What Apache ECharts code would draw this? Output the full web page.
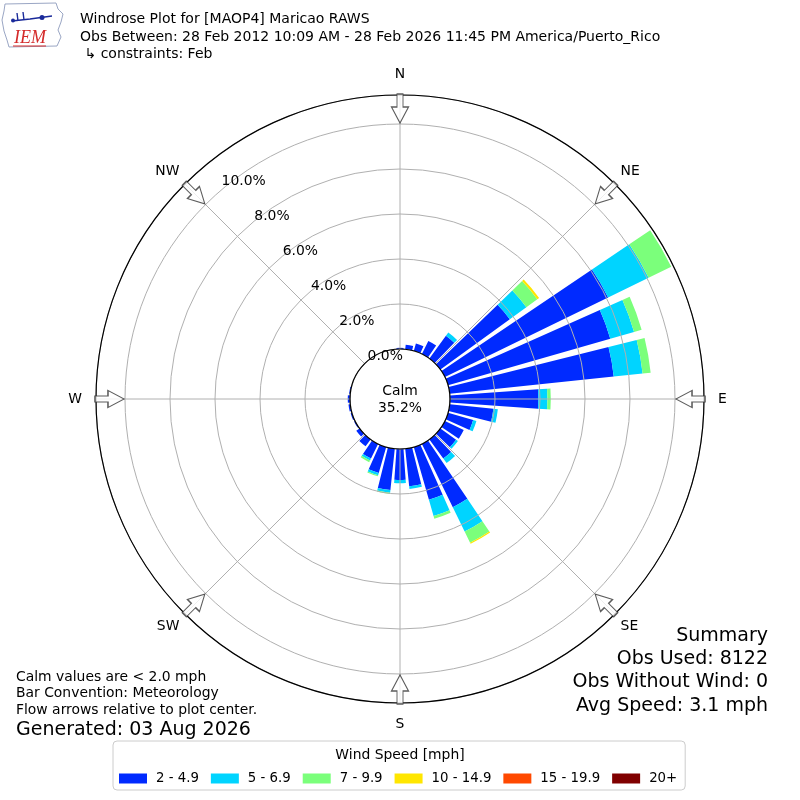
<!DOCTYPE html>
<html>
<head>
<meta charset="utf-8">
<script src="https://cdn.jsdelivr.net/npm/echarts@6/dist/echarts.min.js"></script>
<style>
html,body{margin:0;padding:0;background:#ffffff;}
#main{width:800px;height:800px;}
</style>
</head>
<body>
<div id="main"></div>
<script>
// ---------------- data ----------------
const directions = [0,10,20,30,40,50,60,70,80,90,100,110,120,130,140,150,160,170,
                    180,190,200,210,220,230,240,250,260,270,280,290,300,310,320,330,340,350];
const speedBins = ['2 - 4.9','5 - 6.9','7 - 9.9','10 - 14.9','15 - 19.9','20+'];
// percent of observations per direction (stacked)
const speed2to5 = [0.05,0.20,0.34,0.65,1.25,3.81,8.07,7.50,7.33,3.93,1.95,1.16,0.93,0.86,1.05,3.13,2.44,1.68,
                   1.38,1.85,1.20,0.72,0.38,0.18,0.05,0.06,0.08,0.10,0.05,0,0,0,0,0,0,0];
const speed5to7 = [0,0,0,0,0.18,0.91,2.00,1.10,1.29,0.40,0.20,0.15,0,0.10,0.25,1.20,0.75,0.12,
                   0.14,0.12,0.10,0.10,0,0,0,0,0,0,0,0,0,0,0,0,0,0];
const speed7to10 = [0,0,0,0,0,0.60,1.12,0.35,0.36,0.15,0,0,0,0,0,0.55,0.12,0,
                    0,0.05,0.05,0.08,0,0,0,0,0,0,0,0,0,0,0,0,0,0];
const speed10to15 = [0,0,0,0,0,0.10,0,0,0,0,0,0,0,0,0,0.06,0,0,
                     0,0,0,0,0,0,0,0,0,0,0,0,0,0,0,0,0,0];
const speed15to20 = [0,0,0,0,0,0,0,0,0,0,0,0,0,0,0,0,0,0,0,0,0,0,0,0,0,0,0,0,0,0,0,0,0,0,0,0];
const speed20plus = [0,0,0,0,0,0,0,0,0,0,0,0,0,0,0,0,0,0,0,0,0,0,0,0,0,0,0,0,0,0,0,0,0,0,0,0];
const compassLabels = ['N','NE','E','SE','S','SW','W','NW'];
const compassAngles = [0,45,90,135,180,225,270,315];
const radiusTickStep = 2;
const calmPercent = 35.2;
const calmLimit = 2.0;
const obsUsed = 8122;
const obsWithoutWind = 0;
const avgSpeed = 3.1;

// ---------------- style ----------------
const binValues = [speed2to5, speed5to7, speed7to10, speed10to15, speed15to20, speed20plus];
const binColors = ['#002aff','#00d4ff','#7bff7b','#ffe600','#ff4900','#800000'];
const FONT = 'DejaVu Sans';
const CENTER = [400, 399];
const RADII = [50, 304];
const R_MAX = 11.289;
const ARROW_R = 10.69;
const GRID = '#b0b0b0';
const arrowPath = 'path://M5.5,0 L11.5,0 L11.5,13 L17,13 L8.5,29 L0,13 L5.5,13 Z';
const compassRich = {N: 'n', E: 'e', S: 's', W: 'w'};

const chart = echarts.init(document.getElementById('main'), null, {renderer: 'canvas'});

const barSeries = speedBins.map((name, i) => ({
  type: 'bar', name: name, coordinateSystem: 'polar', polarIndex: 0,
  stack: 'wind', data: binValues[i], barCategoryGap: '20%', z: 2, silent: true,
  itemStyle: {color: binColors[i]}
}));

const option = {
  animation: false,
  backgroundColor: '#ffffff',
  textStyle: {fontFamily: FONT},
  title: [
    {
      left: 80, top: 11, padding: 0,
      text: 'Windrose Plot for [MAOP4] Maricao RAWS\nObs Between: 28 Feb 2012 10:09 AM - 28 Feb 2026 11:45 PM America/Puerto_Rico\n \u21b3 constraints: Feb',
      textStyle: {fontFamily: FONT, fontSize: 14, fontWeight: 'normal', color: '#000', lineHeight: 17.5}
    },
    {
      left: 'center', top: 748, padding: 0, z: 8,
      text: 'Wind Speed [mph]',
      textStyle: {fontFamily: FONT, fontSize: 13.9, fontWeight: 'normal', color: '#000'}
    }
  ],
  legend: {
    left: 113, top: 741, orient: 'horizontal',
    padding: [31, 8, 5, 6],
    itemWidth: 28, itemHeight: 10, itemGap: 12, icon: 'rect',
    borderColor: '#cccccc', borderWidth: 1, borderRadius: 4, backgroundColor: '#ffffff',
    selectedMode: false,
    textStyle: {fontFamily: FONT, fontSize: 13.3, color: '#000', padding: [0, 0, 0, 4]},
    data: speedBins
  },
  polar: [
    {center: CENTER, radius: RADII},
    {center: CENTER, radius: RADII},
    {center: CENTER, radius: RADII}
  ],
  angleAxis: [
    {polarIndex: 0, type: 'category', data: directions, startAngle: 95, clockwise: true, show: false},
    {
      polarIndex: 1, type: 'value', min: 0, max: 360, interval: 45, startAngle: 90, clockwise: true, z: 4,
      axisLine: {show: true, lineStyle: {color: '#000', width: 1.2}},
      axisTick: {show: false},
      splitLine: {show: true, lineStyle: {color: GRID, width: 1}},
      axisLabel: {
        show: true, margin: 8, fontFamily: FONT, fontSize: 13.9, color: '#000',
        formatter: v => {
          if (v >= 360) return '';
          const lab = compassLabels[compassAngles.indexOf(v)] || '';
          return '{' + (compassRich[lab] || 'd') + '|' + lab + '}';
        },
        rich: {
          n: {fontFamily: FONT, fontSize: 13.9, color: '#000', padding: [0, 0, 6, 0]},
          e: {fontFamily: FONT, fontSize: 13.9, color: '#000', padding: [0, 0, 0, 6]},
          s: {fontFamily: FONT, fontSize: 13.9, color: '#000', padding: [6, 0, 0, 0]},
          w: {fontFamily: FONT, fontSize: 13.9, color: '#000', padding: [0, 6, 0, 0]},
          d: {fontFamily: FONT, fontSize: 13.9, color: '#000'}
        }
      }
    },
    {polarIndex: 2, type: 'value', min: 0, max: 360, startAngle: 129, clockwise: true, show: false}
  ],
  radiusAxis: [
    {polarIndex: 0, type: 'value', min: 0, max: R_MAX, show: false},
    {
      polarIndex: 1, type: 'value', min: 0, max: R_MAX, interval: radiusTickStep, z: 3,
      axisLine: {show: false}, axisTick: {show: false}, axisLabel: {show: false},
      splitLine: {show: true, lineStyle: {color: GRID, width: 1}}
    },
    {
      polarIndex: 2, type: 'value', min: 0, max: R_MAX, interval: radiusTickStep, z: 5,
      axisLine: {show: false}, axisTick: {show: false}, splitLine: {show: false},
      axisLabel: {
        show: true, margin: -17, align: 'center', verticalAlign: 'middle',
        fontFamily: FONT, fontSize: 13.9, color: '#000', showMaxLabel: false,
        formatter: v => '{p|' + v.toFixed(1) + '%}',
        rich: {p: {fontFamily: FONT, fontSize: 13.9, color: '#000', padding: [13, 0, 0, 7]}}
      }
    }
  ],
  series: barSeries.concat([{
    type: 'scatter', name: 'arrows', coordinateSystem: 'polar', polarIndex: 1, z: 6, silent: true,
    symbol: arrowPath, symbolSize: [17, 29],
    itemStyle: {color: '#ffffff', borderColor: '#333333', borderWidth: 1.2},
    data: compassAngles.map(a => ({value: [ARROW_R, a], symbolRotate: -a}))
  }]),
  graphic: {elements: [
    // calm
    {type: 'text', x: 400, y: 400, z: 10, silent: true,
     style: {text: 'Calm\n' + calmPercent.toFixed(1) + '%', fontFamily: FONT, fontSize: 13.9, lineHeight: 16.6,
             fill: '#000', align: 'center', verticalAlign: 'middle'}},
    // summary
    {type: 'text', x: 768, y: 636, silent: true,
     style: {text: 'Summary', fontFamily: FONT, fontSize: 19, fill: '#000', align: 'right', verticalAlign: 'middle'}},
    {type: 'text', x: 768, y: 659, silent: true,
     style: {text: 'Obs Used: ' + obsUsed, fontFamily: FONT, fontSize: 19, fill: '#000', align: 'right', verticalAlign: 'middle'}},
    {type: 'text', x: 768, y: 682, silent: true,
     style: {text: 'Obs Without Wind: ' + obsWithoutWind, fontFamily: FONT, fontSize: 19, fill: '#000', align: 'right', verticalAlign: 'middle'}},
    {type: 'text', x: 768, y: 706, silent: true,
     style: {text: 'Avg Speed: ' + avgSpeed.toFixed(1) + ' mph', fontFamily: FONT, fontSize: 19, fill: '#000', align: 'right', verticalAlign: 'middle'}},
    // notes
    {type: 'text', x: 16, y: 677, silent: true,
     style: {text: 'Calm values are < ' + calmLimit.toFixed(1) + ' mph', fontFamily: FONT, fontSize: 13.9, fill: '#000', align: 'left', verticalAlign: 'middle'}},
    {type: 'text', x: 16, y: 693.5, silent: true,
     style: {text: 'Bar Convention: Meteorology', fontFamily: FONT, fontSize: 13.9, fill: '#000', align: 'left', verticalAlign: 'middle'}},
    {type: 'text', x: 16, y: 710, silent: true,
     style: {text: 'Flow arrows relative to plot center.', fontFamily: FONT, fontSize: 13.9, fill: '#000', align: 'left', verticalAlign: 'middle'}},
    {type: 'text', x: 16, y: 730, silent: true,
     style: {text: 'Generated: 03 Aug 2026', fontFamily: FONT, fontSize: 19, fill: '#000', align: 'left', verticalAlign: 'middle'}},
    // IEM logo (approximation)
    {type: 'polyline', silent: true,
     shape: {points: [[5,4],[56,3],[58,9],[63,14],[61,22],[58,30],[61,37],[57,46],[9,47],[7,40],[4,31],[2,20],[4,11],[5,4]]},
     style: {stroke: '#9aa6c4', lineWidth: 1, fill: null}},
    {type: 'polyline', silent: true,
     shape: {points: [[12,21],[30,19],[52,16]]},
     style: {stroke: '#1a2a9a', lineWidth: 1.6, fill: null}},
    {type: 'polyline', silent: true, shape: {points: [[18,21],[17,13]]}, style: {stroke: '#1a2a9a', lineWidth: 1.4}},
    {type: 'polyline', silent: true, shape: {points: [[24,20],[23,12]]}, style: {stroke: '#1a2a9a', lineWidth: 1.4}},
    {type: 'circle', silent: true, shape: {cx: 42, cy: 17.5, r: 2.5}, style: {fill: '#1a2a9a'}},
    {type: 'circle', silent: true, shape: {cx: 13, cy: 20.5, r: 2}, style: {fill: '#1a2a9a'}},
    {type: 'text', x: 14, y: 38, silent: true,
     style: {text: 'IEM', fontFamily: 'Liberation Serif', fontSize: 18, fontStyle: 'italic', fill: '#d42a2a', align: 'left', verticalAlign: 'middle'}},
    {type: 'polyline', silent: true, shape: {points: [[13,46],[46,46]]}, style: {stroke: '#d42a2a', lineWidth: 1}}
  ]}
};

chart.setOption(option);
</script>
</body>
</html>
